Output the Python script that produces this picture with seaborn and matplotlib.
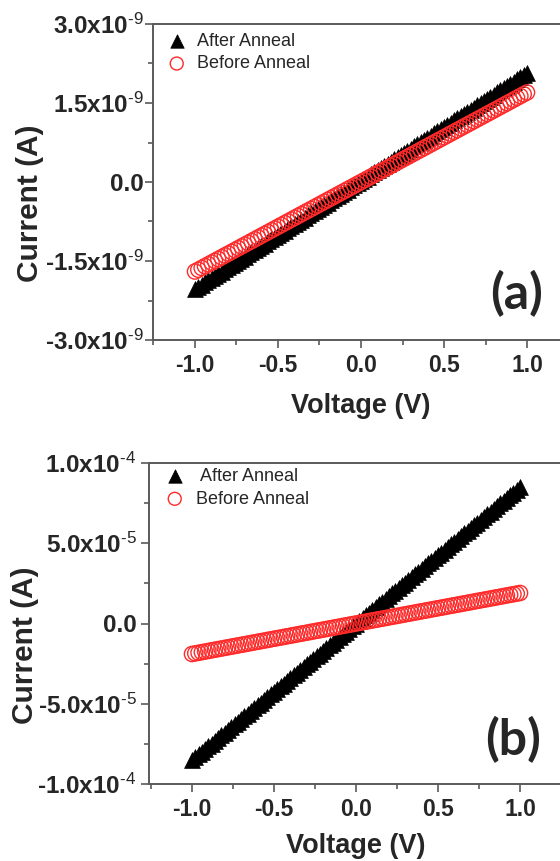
import numpy as np
import pandas as pd
import matplotlib
matplotlib.use("Agg")
import matplotlib.pyplot as plt
from matplotlib.ticker import MultipleLocator
import seaborn as sns

# voltage sweep, -1 V to 1 V
voltage = [-1.00, -0.98, -0.96, -0.94, -0.92, -0.90, -0.88, -0.86, -0.84, -0.82,
           -0.80, -0.78, -0.76, -0.74, -0.72, -0.70, -0.68, -0.66, -0.64, -0.62,
           -0.60, -0.58, -0.56, -0.54, -0.52, -0.50, -0.48, -0.46, -0.44, -0.42,
           -0.40, -0.38, -0.36, -0.34, -0.32, -0.30, -0.28, -0.26, -0.24, -0.22,
           -0.20, -0.18, -0.16, -0.14, -0.12, -0.10, -0.08, -0.06, -0.04, -0.02,
           0.00, 0.02, 0.04, 0.06, 0.08, 0.10, 0.12, 0.14, 0.16, 0.18,
           0.20, 0.22, 0.24, 0.26, 0.28, 0.30, 0.32, 0.34, 0.36, 0.38,
           0.40, 0.42, 0.44, 0.46, 0.48, 0.50, 0.52, 0.54, 0.56, 0.58,
           0.60, 0.62, 0.64, 0.66, 0.68, 0.70, 0.72, 0.74, 0.76, 0.78,
           0.80, 0.82, 0.84, 0.86, 0.88, 0.90, 0.92, 0.94, 0.96, 0.98, 1.00]

# panel (a) currents in nA
a_after = [-2.030, -1.989, -1.948, -1.907, -1.866, -1.825, -1.784, -1.743, -1.702, -1.661,
           -1.620, -1.579, -1.538, -1.497, -1.456, -1.415, -1.374, -1.333, -1.292, -1.251,
           -1.210, -1.169, -1.128, -1.087, -1.046, -1.005, -0.964, -0.923, -0.882, -0.841,
           -0.800, -0.759, -0.718, -0.677, -0.636, -0.595, -0.554, -0.513, -0.472, -0.431,
           -0.390, -0.349, -0.308, -0.267, -0.226, -0.185, -0.144, -0.103, -0.062, -0.021,
           0.020, 0.061, 0.102, 0.143, 0.184, 0.225, 0.266, 0.307, 0.348, 0.389,
           0.430, 0.471, 0.512, 0.553, 0.594, 0.635, 0.676, 0.717, 0.758, 0.799,
           0.840, 0.881, 0.922, 0.963, 1.004, 1.045, 1.086, 1.127, 1.168, 1.209,
           1.250, 1.291, 1.332, 1.373, 1.414, 1.455, 1.496, 1.537, 1.578, 1.619,
           1.660, 1.701, 1.742, 1.783, 1.824, 1.865, 1.906, 1.947, 1.988, 2.029, 2.070]
a_before = [-1.700, -1.666, -1.632, -1.598, -1.564, -1.530, -1.496, -1.462, -1.428, -1.394,
            -1.360, -1.326, -1.292, -1.258, -1.224, -1.190, -1.156, -1.122, -1.088, -1.054,
            -1.020, -0.986, -0.952, -0.918, -0.884, -0.850, -0.816, -0.782, -0.748, -0.714,
            -0.680, -0.646, -0.612, -0.578, -0.544, -0.510, -0.476, -0.442, -0.408, -0.374,
            -0.340, -0.306, -0.272, -0.238, -0.204, -0.170, -0.136, -0.102, -0.068, -0.034,
            0.000, 0.034, 0.068, 0.102, 0.136, 0.170, 0.204, 0.238, 0.272, 0.306,
            0.340, 0.374, 0.408, 0.442, 0.476, 0.510, 0.544, 0.578, 0.612, 0.646,
            0.680, 0.714, 0.748, 0.782, 0.816, 0.850, 0.884, 0.918, 0.952, 0.986,
            1.020, 1.054, 1.088, 1.122, 1.156, 1.190, 1.224, 1.258, 1.292, 1.326,
            1.360, 1.394, 1.428, 1.462, 1.496, 1.530, 1.564, 1.598, 1.632, 1.666, 1.700]

# panel (b) currents in units of 1e-5 A
b_after = [-8.50, -8.33, -8.16, -7.99, -7.82, -7.65, -7.48, -7.31, -7.14, -6.97,
           -6.80, -6.63, -6.46, -6.29, -6.12, -5.95, -5.78, -5.61, -5.44, -5.27,
           -5.10, -4.93, -4.76, -4.59, -4.42, -4.25, -4.08, -3.91, -3.74, -3.57,
           -3.40, -3.23, -3.06, -2.89, -2.72, -2.55, -2.38, -2.21, -2.04, -1.87,
           -1.70, -1.53, -1.36, -1.19, -1.02, -0.85, -0.68, -0.51, -0.34, -0.17,
           0.00, 0.17, 0.34, 0.51, 0.68, 0.85, 1.02, 1.19, 1.36, 1.53,
           1.70, 1.87, 2.04, 2.21, 2.38, 2.55, 2.72, 2.89, 3.06, 3.23,
           3.40, 3.57, 3.74, 3.91, 4.08, 4.25, 4.42, 4.59, 4.76, 4.93,
           5.10, 5.27, 5.44, 5.61, 5.78, 5.95, 6.12, 6.29, 6.46, 6.63,
           6.80, 6.97, 7.14, 7.31, 7.48, 7.65, 7.82, 7.99, 8.16, 8.33, 8.50]
b_before = [-1.900, -1.862, -1.824, -1.786, -1.748, -1.710, -1.672, -1.634, -1.596, -1.558,
            -1.520, -1.482, -1.444, -1.406, -1.368, -1.330, -1.292, -1.254, -1.216, -1.178,
            -1.140, -1.102, -1.064, -1.026, -0.988, -0.950, -0.912, -0.874, -0.836, -0.798,
            -0.760, -0.722, -0.684, -0.646, -0.608, -0.570, -0.532, -0.494, -0.456, -0.418,
            -0.380, -0.342, -0.304, -0.266, -0.228, -0.190, -0.152, -0.114, -0.076, -0.038,
            0.000, 0.038, 0.076, 0.114, 0.152, 0.190, 0.228, 0.266, 0.304, 0.342,
            0.380, 0.418, 0.456, 0.494, 0.532, 0.570, 0.608, 0.646, 0.684, 0.722,
            0.760, 0.798, 0.836, 0.874, 0.912, 0.950, 0.988, 1.026, 1.064, 1.102,
            1.140, 1.178, 1.216, 1.254, 1.292, 1.330, 1.368, 1.406, 1.444, 1.482,
            1.520, 1.558, 1.596, 1.634, 1.672, 1.710, 1.748, 1.786, 1.824, 1.862, 1.900]

x_ticks = [-1.0, -0.5, 0.0, 0.5, 1.0]
x_ticklabels = ["-1.0", "-0.5", "0.0", "0.5", "1.0"]
a_yticks = [-3.0e-9, -1.5e-9, 0.0, 1.5e-9, 3.0e-9]
a_yticklabels = [r"-3.0x10$^{\text{-9}}$", r"-1.5x10$^{\text{-9}}$", "0.0",
                 r"1.5x10$^{\text{-9}}$", r"3.0x10$^{\text{-9}}$"]
b_yticks = [-1.0e-4, -5.0e-5, 0.0, 5.0e-5, 1.0e-4]
b_yticklabels = [r"-1.0x10$^{\text{-4}}$", r"-5.0x10$^{\text{-5}}$", "0.0",
                 r"5.0x10$^{\text{-5}}$", r"1.0x10$^{\text{-4}}$"]

df_a = pd.DataFrame({"Voltage": voltage,
                     "After": np.array(a_after) * 1e-9,
                     "Before": np.array(a_before) * 1e-9})
df_b = pd.DataFrame({"Voltage": voltage,
                     "After": np.array(b_after) * 1e-5,
                     "Before": np.array(b_before) * 1e-5})

sns.set_theme(style="white")
plt.rcParams["font.family"] = ["Liberation Sans", "DejaVu Sans"]
plt.rcParams["mathtext.fontset"] = "custom"
plt.rcParams["mathtext.rm"] = "Liberation Sans"
plt.rcParams["mathtext.it"] = "Liberation Sans"
plt.rcParams["mathtext.bf"] = "Liberation Sans:bold"
plt.rcParams["axes.unicode_minus"] = False

spine_col = "#5a5a5a"
red = "#ff2a2a"

fig = plt.figure(figsize=(5.6, 8.61), dpi=100)
W, H = 560.0, 861.0


def make_panel(df, rect, xlim, ylim, yticks, yticklabels, minor_y, letter, after_label,
               leg_anchor, letter_xy, ylab_xy, xlab_y, ypad):
    left, top, right, bottom = rect
    ax = fig.add_axes([left / W, 1 - bottom / H, (right - left) / W, (bottom - top) / H])
    sns.scatterplot(data=df, x="Voltage", y="After", marker="^", s=130, color="black",
                    edgecolor="black", linewidth=0.5, label=after_label, ax=ax, zorder=2)
    sns.scatterplot(data=df, x="Voltage", y="Before", marker="o", s=120, facecolor="none",
                    edgecolor=red, linewidth=1.0, label="Before Anneal", ax=ax, zorder=3)
    ax.set_xlim(*xlim)
    ax.set_ylim(*ylim)
    ax.set_xticks(x_ticks)
    ax.set_xticklabels(x_ticklabels)
    ax.xaxis.set_minor_locator(MultipleLocator(0.25))
    ax.set_yticks(yticks)
    ax.set_yticklabels(yticklabels)
    ax.yaxis.set_minor_locator(MultipleLocator(minor_y))
    for lab in ax.get_xticklabels():
        lab.set_fontweight("bold")
        lab.set_fontsize(16.5)
    for lab in ax.get_yticklabels():
        lab.set_fontweight("bold")
        lab.set_fontsize(17.5)
    ax.tick_params(which="major", direction="out", length=6, width=1.2, color=spine_col,
                   bottom=True, left=True)
    ax.tick_params(which="minor", direction="out", length=3.5, width=1.2, color=spine_col,
                   bottom=True, left=True)
    ax.tick_params(axis="x", which="major", pad=4)
    ax.tick_params(axis="y", which="major", pad=ypad)
    for sp in ax.spines.values():
        sp.set_color(spine_col)
        sp.set_linewidth(1.4)
    ax.set_xlabel("Voltage (V)", fontsize=19.5, fontweight="bold")
    ax.set_ylabel("Current (A)", fontsize=21.5, fontweight="bold")
    ax.xaxis.set_label_coords(0.5, xlab_y)
    ax.yaxis.set_label_coords(*ylab_xy)
    ax.legend(loc="upper left", bbox_to_anchor=leg_anchor, frameon=False,
              fontsize=13, handletextpad=0.55, borderaxespad=0.0, borderpad=0.0,
              labelspacing=0.3, markerscale=0.85, handlelength=1.2)
    ax.text(letter_xy[0], letter_xy[1], letter, transform=ax.transAxes, fontsize=36,
            fontweight="bold", family=["Lato", "DejaVu Sans"], ha="center", va="center")
    return ax


ax_a = make_panel(df_a, (153, 24, 569, 340), (-1.253, 1.253), (-3.0e-9, 3.0e-9),
                  a_yticks, a_yticklabels, 0.75e-9, "(a)", "After Anneal",
                  leg_anchor=(0.031, 0.972), letter_xy=(0.873, 0.146),
                  ylab_xy=(-0.262, 0.432), xlab_y=-0.168, ypad=1.0)
ax_b = make_panel(df_b, (149, 463, 563, 784), (-1.262, 1.262), (-1.0e-4, 1.0e-4),
                  b_yticks, b_yticklabels, 2.5e-5, "(b)", " After Anneal",
                  leg_anchor=(0.036, 0.984), letter_xy=(0.879, 0.137),
                  ylab_xy=(-0.265, 0.433), xlab_y=-0.152, ypad=3.0)

fig.savefig("out.png", dpi=100)
